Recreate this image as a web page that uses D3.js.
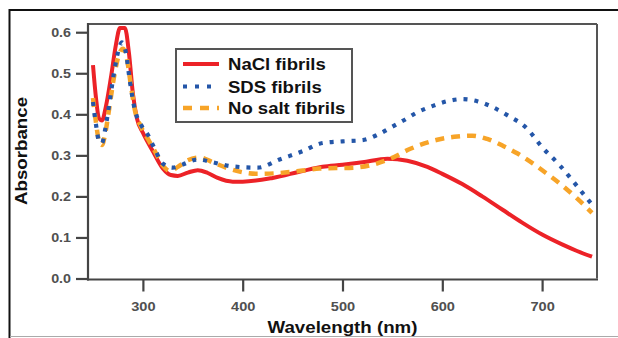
<!DOCTYPE html>
<html><head><meta charset="utf-8">
<script src="https://cdn.jsdelivr.net/npm/d3@7"></script>
<style>body{margin:0;background:#fff}svg{display:block}</style>
</head><body>
<svg id="c" width="618" height="338"></svg>
<script>
const xTicks = [300, 400, 500, 600, 700];
const yTicks = [0.0, 0.1, 0.2, 0.3, 0.4, 0.5, 0.6];
const seriesNames = ["NaCl fibrils", "SDS fibrils", "No salt fibrils"];

const naclWl = [250,253,256,259,263,268,273,277,282,286,290,294,300,310,320,328,335,345,355,365,375,390,400,430,460,480,500,520,545,565,585,600,620,640,660,680,700,720,735,750];
const naclAbs = [0.52,0.44,0.39,0.385,0.42,0.49,0.57,0.61,0.61,0.55,0.45,0.39,0.355,0.31,0.268,0.252,0.25,0.258,0.264,0.257,0.245,0.236,0.236,0.245,0.262,0.272,0.277,0.283,0.292,0.287,0.272,0.255,0.23,0.2,0.168,0.136,0.107,0.083,0.067,0.053];

const sdsWl = [250,253,256,259,262,266,271,276,279,283,287,292,298,305,312,320,330,340,355,370,390,415,437,460,480,500,520,535,550,561,575,590,605,620,635,650,665,685,700,718,735,750];
const sdsAbs = [0.43,0.375,0.335,0.33,0.36,0.42,0.5,0.56,0.575,0.55,0.48,0.41,0.375,0.35,0.315,0.28,0.27,0.278,0.29,0.283,0.273,0.27,0.29,0.31,0.33,0.334,0.337,0.35,0.37,0.385,0.405,0.42,0.432,0.437,0.432,0.418,0.398,0.365,0.32,0.275,0.225,0.18];

const noSaltWl = [250,253,256,259,262,266,271,276,280,284,288,292,298,305,312,320,327,335,345,357,370,387,414,437,460,477,511,530,548,568,595,615,630,645,661,675,691,705,721,735,750];
const noSaltAbs = [0.44,0.38,0.335,0.325,0.35,0.41,0.49,0.545,0.56,0.535,0.47,0.41,0.37,0.34,0.31,0.275,0.262,0.272,0.288,0.295,0.283,0.267,0.255,0.257,0.263,0.268,0.27,0.277,0.292,0.316,0.338,0.346,0.348,0.34,0.323,0.305,0.28,0.255,0.225,0.195,0.16];

const svg = d3.select("#c");
const FONT = "'Liberation Sans', Arial, sans-serif";

// outer frame
svg.append("line").attr("x1",9.5).attr("x2",9.5).attr("y1",9).attr("y2",338).attr("stroke","#111").attr("stroke-width",2);
svg.append("line").attr("x1",9).attr("x2",618).attr("y1",10).attr("y2",10).attr("stroke","#111").attr("stroke-width",2);
svg.append("line").attr("x1",10).attr("x2",618).attr("y1",336.5).attr("y2",336.5).attr("stroke","#aaa").attr("stroke-width",1);

const L = 88, R = 597, T = 24, B = 278.5;
const x = d3.scaleLinear().domain([245, 755]).range([L, R]);
const y = d3.scaleLinear().domain([0, 0.62]).range([B, T]);

function stretch(sel, f) {
  sel.each(function(){ const n = this.getComputedTextLength(); this.setAttribute("textLength", n*f); this.setAttribute("lengthAdjust","spacingAndGlyphs"); });
}

// plot frame top/right
svg.append("line").attr("x1",L).attr("x2",R).attr("y1",T).attr("y2",T).attr("stroke","#555").attr("stroke-width",2);
svg.append("line").attr("x1",R).attr("x2",R).attr("y1",T).attr("y2",B).attr("stroke","#555").attr("stroke-width",2);

const xAxis = svg.append("g").attr("transform",`translate(0,${B+1})`)
  .call(d3.axisBottom(x).tickValues(xTicks).tickSize(12).tickPadding(8).tickFormat(d3.format("d")));
const yAxis = svg.append("g").attr("transform",`translate(${L-1},0)`)
  .call(d3.axisLeft(y).tickValues(yTicks).tickSize(11).tickPadding(5).tickFormat(d3.format(".1f")));
[xAxis, yAxis].forEach(a => {
  a.select(".domain").remove();
  a.selectAll(".tick line").attr("stroke","#444").attr("stroke-width",2.2);
  a.selectAll(".tick text").attr("fill","#505050").attr("font-family",FONT).attr("font-size",13).attr("font-weight","bold");
});
xAxis.selectAll(".tick text").attr("dy","0.9em");
stretch(xAxis.selectAll(".tick text"), 1.12);
stretch(yAxis.selectAll(".tick text"), 1.1);

// axes lines
svg.append("line").attr("x1",L).attr("x2",L).attr("y1",T-1).attr("y2",B+2).attr("stroke","#444").attr("stroke-width",2.2);
svg.append("line").attr("x1",L-1).attr("x2",R+1).attr("y1",B+1).attr("y2",B+1).attr("stroke","#444").attr("stroke-width",2.2);

const line = d3.line().x(d=>x(d[0])).y(d=>y(d[1])).curve(d3.curveMonotoneX);
const zip = (a,b)=>a.map((v,i)=>[v,b[i]]);
const plot = svg.append("g");
plot.append("path").datum(zip(naclWl,naclAbs)).attr("d",line).attr("fill","none").attr("stroke","#ec2227").attr("stroke-width",4);
plot.append("path").datum(zip(noSaltWl,noSaltAbs)).attr("d",line).attr("fill","none").attr("stroke","#f7a428").attr("stroke-width",4.5).attr("stroke-dasharray","9 7");
plot.append("path").datum(zip(sdsWl,sdsAbs)).attr("d",line).attr("fill","none").attr("stroke","#2456a8").attr("stroke-width",4.2).attr("stroke-dasharray","4 7");

// legend
const lg = svg.append("g");
lg.append("rect").attr("x",176).attr("y",49).attr("width",176).attr("height",73).attr("fill","#fff").attr("stroke","#555").attr("stroke-width",2);
const rowsY = [64, 86.5, 108];
const styles = [
  {c:"#ec2227", w:4, d:null},
  {c:"#2456a8", w:4, d:"4 8"},
  {c:"#f7a428", w:4.5, d:"9 8"}
];
seriesNames.forEach((nm,i)=>{
  const s = styles[i];
  const ln = lg.append("line").attr("x1",183).attr("x2",219).attr("y1",rowsY[i]).attr("y2",rowsY[i]).attr("stroke",s.c).attr("stroke-width",s.w);
  if (s.d) ln.attr("stroke-dasharray", s.d);
  lg.append("text").attr("x",228).attr("y",rowsY[i]+6).attr("font-family",FONT).attr("font-weight","bold").attr("font-size",17).attr("fill","#111").text(nm);
});
stretch(lg.selectAll("text"), 1.09);

// titles
const xt = svg.append("text").attr("x",342.5).attr("y",333).attr("text-anchor","middle").attr("font-family",FONT).attr("font-weight","bold").attr("font-size",17).attr("fill","#111").text("Wavelength (nm)");
stretch(xt, 1.1);
const yt = svg.append("text").attr("transform","translate(27,151) rotate(-90)").attr("text-anchor","middle").attr("font-family",FONT).attr("font-weight","bold").attr("font-size",17).attr("fill","#111").text("Absorbance");
stretch(yt, 1.1);
</script>
</body></html>
